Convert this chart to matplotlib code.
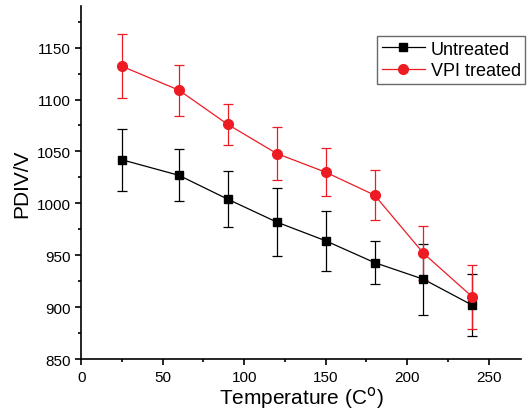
import matplotlib
matplotlib.use('Agg')
import matplotlib.pyplot as plt
from matplotlib.lines import Line2D
from matplotlib.ticker import MultipleLocator

plt.rcParams['font.family'] = ['Liberation Sans', 'DejaVu Sans']
plt.rcParams['axes.linewidth'] = 1.2
plt.rcParams['xtick.major.width'] = 1.2
plt.rcParams['ytick.major.width'] = 1.2
plt.rcParams['xtick.minor.width'] = 1.2
plt.rcParams['ytick.minor.width'] = 1.2
plt.rcParams['xtick.major.size'] = 4
plt.rcParams['ytick.major.size'] = 4
plt.rcParams['xtick.minor.size'] = 2.5
plt.rcParams['ytick.minor.size'] = 2.5

# data
temperature = [25, 60, 90, 120, 150, 180, 210, 240]
untreated = [1042, 1027, 1004, 982, 964, 943, 927, 902]
untreated_err = [30, 25, 27, 33, 29, 21, 34, 30]
vpi = [1132, 1109, 1076, 1048, 1030, 1008, 952, 910]
vpi_err = [31, 24.5, 20, 25.5, 23, 24, 26, 31]

red = '#ED1C24'

fig = plt.figure(figsize=(5.27, 4.14), dpi=100)
ax = fig.add_axes([0.154, 0.130, 0.835, 0.853])

ax.errorbar(temperature, untreated, yerr=untreated_err, color='k', marker='s',
            markersize=5.5, linewidth=0.9, elinewidth=0.9, capsize=3.5,
            capthick=0.9)
ax.errorbar(temperature, vpi, yerr=vpi_err, color=red, marker='o',
            markersize=7, linewidth=0.9, elinewidth=0.9, capsize=3.5,
            capthick=0.9)

ax.set_xlim(0, 270)
ax.set_ylim(850, 1190)
ax.set_xticks([0, 50, 100, 150, 200, 250])
ax.set_yticks([850, 900, 950, 1000, 1050, 1100, 1150])
ax.xaxis.set_minor_locator(MultipleLocator(25))
ax.yaxis.set_minor_locator(MultipleLocator(25))
ax.tick_params(which='both', direction='out', labelsize=11)
ax.spines['top'].set_visible(False)
ax.spines['right'].set_visible(False)

ax.set_xlabel('Temperature (C$^{\\mathrm{o}}$)', fontsize=15, labelpad=0)
ax.set_ylabel('PDIV/V', fontsize=15, labelpad=4)

handles = [Line2D([], [], color='k', marker='s', markersize=5.5, linewidth=0.9),
           Line2D([], [], color=red, marker='o', markersize=7, linewidth=0.9)]
leg = ax.legend(handles, ['Untreated', 'VPI treated'], loc='upper right',
                bbox_to_anchor=(1.009, 0.915), fontsize=13,
                frameon=True, fancybox=False, edgecolor='#444444',
                handlelength=2.4, handletextpad=0.3, borderpad=0.25,
                labelspacing=0.25, borderaxespad=0)
leg.get_frame().set_linewidth(1.0)

fig.savefig('out.png', dpi=100)
